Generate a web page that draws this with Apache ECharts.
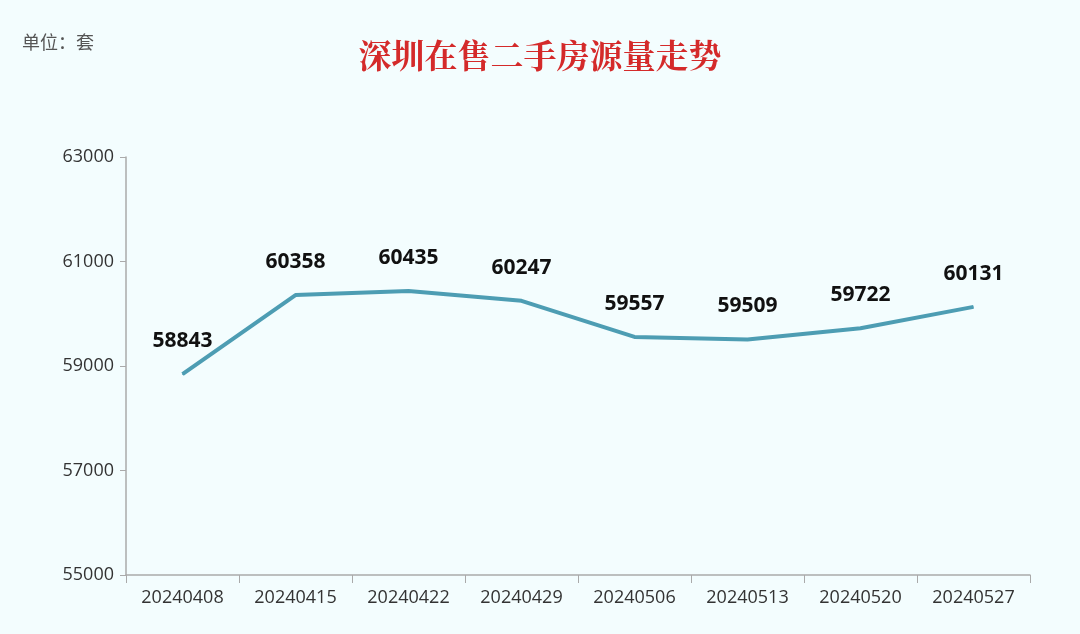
<!DOCTYPE html>
<html><head><meta charset="utf-8">
<script src="https://cdn.jsdelivr.net/npm/echarts@6/dist/echarts.min.js"></script>
<style>html,body{margin:0;padding:0;background:#f3fdfe}#c{width:1080px;height:634px}</style>
</head><body><div id="c"></div>
<script>
const categories=['20240408','20240415','20240422','20240429','20240506','20240513','20240520','20240527'];
const values=[58843,60358,60435,60247,59557,59509,59722,60131];
const chart=echarts.init(document.getElementById('c'));
chart.setOption({
  backgroundColor:'#f3fdfe',
  title:[{text:'深圳在售二手房源量走势',left:535,textAlign:'center',top:34,textStyle:{color:'#d42a2a',fontSize:33,fontWeight:'bold',fontFamily:'"Noto Serif CJK SC","Noto Sans CJK SC",serif'}},
         {text:'单位：套',left:17,top:28,textStyle:{color:'#555',fontSize:18,fontWeight:'normal',fontFamily:'"Noto Sans CJK SC",sans-serif'}}],
  grid:{left:126,right:50,top:157,bottom:59},
  xAxis:{type:'category',data:categories,boundaryGap:true,
    axisLine:{lineStyle:{color:'#aaa',width:1.5}},axisTick:{show:true,length:8,lineStyle:{color:'#aaa'}},
    axisLabel:{color:'#333',fontSize:18,margin:14,fontFamily:'"Open Sans", sans-serif'}},
  yAxis:{type:'value',min:55000,max:63000,interval:2000,
    axisLine:{show:true,lineStyle:{color:'#aaa',width:1.5}},axisTick:{show:true,length:6,lineStyle:{color:'#aaa'}},
    splitLine:{show:false},
    axisLabel:{color:'#333',fontSize:18,margin:12,formatter:v=>String(v),fontFamily:'"Open Sans", sans-serif'}},
  series:[{type:'line',data:values,symbol:'circle',symbolSize:1,showSymbol:true,itemStyle:{color:'#4d9db3'},lineStyle:{color:'#4d9db3',width:4},
    label:{show:true,position:'top',distance:22,color:'#111',fontSize:21,fontWeight:'bold',fontFamily:'"Open Sans", Arial, sans-serif'}}]
});
</script></body></html>
